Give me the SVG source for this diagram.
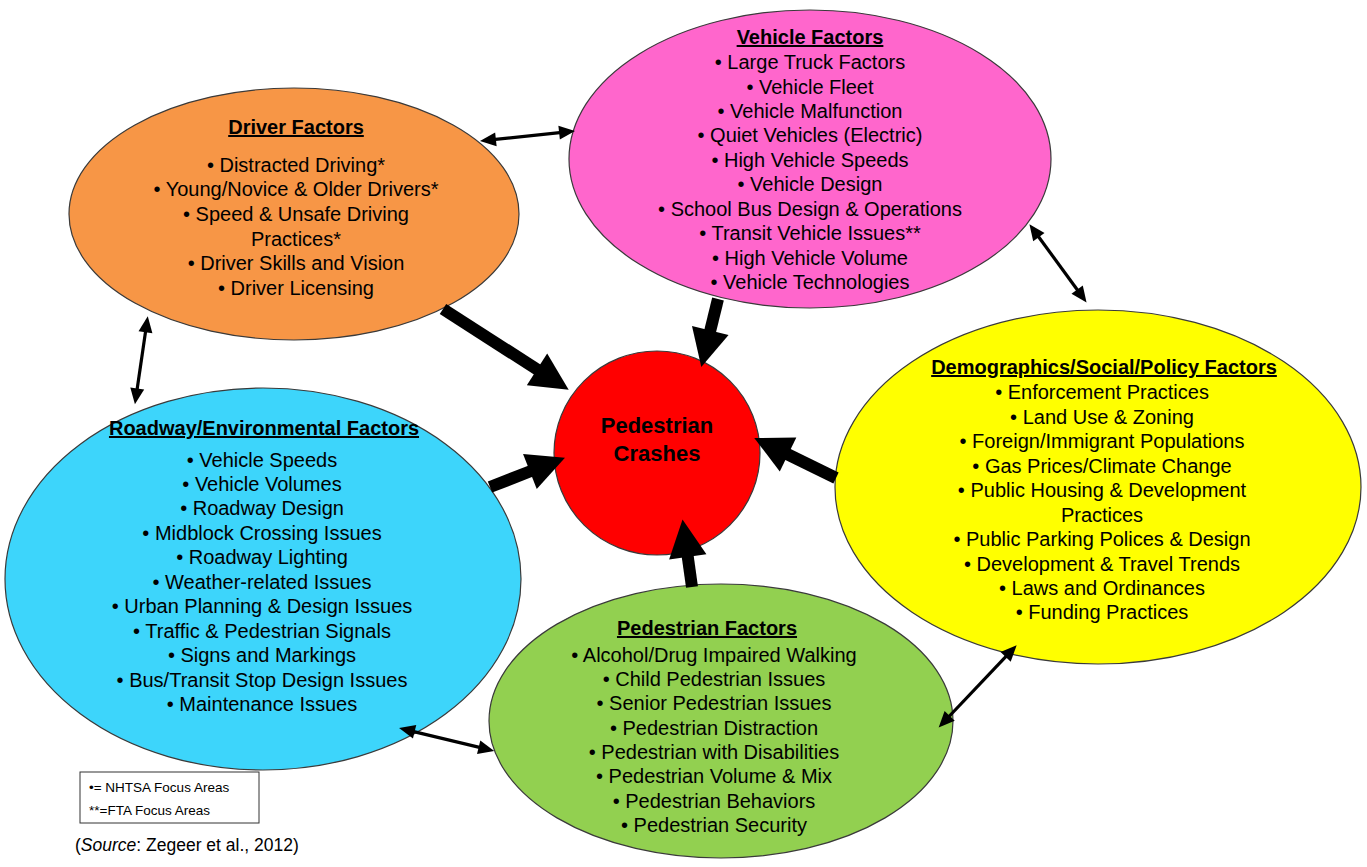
<svg xmlns="http://www.w3.org/2000/svg" width="1367" height="867" viewBox="0 0 1367 867">
<style>
.node{stroke:#3a3a3a;stroke-width:1.2}
.t{font-family:"Liberation Sans",Arial,sans-serif;font-size:20px;fill:#000;text-anchor:middle}
.h{font-weight:bold;text-decoration:underline}
.c{font-family:"Liberation Sans",Arial,sans-serif;font-size:22px;font-weight:bold;fill:#000;text-anchor:middle}
.thick{stroke:#000;stroke-width:12;fill:none;marker-end:url(#big)}
.thin{stroke:#000;stroke-width:3.2;fill:none;marker-start:url(#sm);marker-end:url(#sm)}
.leg{font-family:"Liberation Sans",Arial,sans-serif;font-size:13.5px;fill:#000}
.src{font-family:"Liberation Sans",Arial,sans-serif;font-size:17.5px;fill:#000}
</style>
<defs>
<marker id="big" markerUnits="userSpaceOnUse" markerWidth="40" markerHeight="40" viewBox="-1 -17 33 34" refX="0" refY="0" orient="auto">
<path d="M-1,-16 L31,0 L-1,16 z" fill="#000"/>
</marker>
<marker id="sm" markerUnits="userSpaceOnUse" markerWidth="18" markerHeight="16" viewBox="-4 -8 18 16" refX="0" refY="0" orient="auto-start-reverse">
<path d="M-3,-7 L13,0 L-3,7 z" fill="#000"/>
</marker>
</defs>
<rect width="1367" height="867" fill="#fff"/>

<g id="driver">
<ellipse class="node" cx="294" cy="214" rx="225" ry="126" fill="#F79646"/>
<text class="t h" x="296" y="134">Driver Factors</text>
<text class="t" x="296" y="172">• Distracted Driving*</text>
<text class="t" x="296" y="196">• Young/Novice &amp; Older Drivers*</text>
<text class="t" x="296" y="221">• Speed &amp; Unsafe Driving</text>
<text class="t" x="296" y="246">Practices*</text>
<text class="t" x="296" y="270">• Driver Skills and Vision</text>
<text class="t" x="296" y="295">• Driver Licensing</text>
</g>

<g id="vehicle">
<ellipse class="node" cx="810" cy="159" rx="241" ry="149" fill="#FF66CC"/>
<text class="t h" x="810" y="44">Vehicle Factors</text>
<text class="t" x="810" y="69">• Large Truck Factors</text>
<text class="t" x="810" y="94">• Vehicle Fleet</text>
<text class="t" x="810" y="118">• Vehicle Malfunction</text>
<text class="t" x="810" y="142">• Quiet Vehicles (Electric)</text>
<text class="t" x="810" y="167">• High Vehicle Speeds</text>
<text class="t" x="810" y="191">• Vehicle Design</text>
<text class="t" x="810" y="216">• School Bus Design &amp; Operations</text>
<text class="t" x="810" y="240">• Transit Vehicle Issues**</text>
<text class="t" x="810" y="265">• High Vehicle Volume</text>
<text class="t" x="810" y="289">• Vehicle Technologies</text>
</g>

<g id="demographics">
<ellipse class="node" cx="1098" cy="487" rx="263" ry="177" fill="#FFFF00"/>
<text class="t h" x="1104" y="374">Demographics/Social/Policy Factors</text>
<text class="t" x="1102" y="399">• Enforcement Practices</text>
<text class="t" x="1102" y="424">• Land Use &amp; Zoning</text>
<text class="t" x="1102" y="448">• Foreign/Immigrant Populations</text>
<text class="t" x="1102" y="473">• Gas Prices/Climate Change</text>
<text class="t" x="1102" y="497">• Public Housing &amp; Development</text>
<text class="t" x="1102" y="522">Practices</text>
<text class="t" x="1102" y="546">• Public Parking Polices &amp; Design</text>
<text class="t" x="1102" y="571">• Development &amp; Travel Trends</text>
<text class="t" x="1102" y="595">• Laws and Ordinances</text>
<text class="t" x="1102" y="619">• Funding Practices</text>
</g>

<g id="roadway">
<ellipse class="node" cx="263" cy="579" rx="258" ry="191" fill="#3DD5FB"/>
<text class="t h" x="264" y="435">Roadway/Environmental Factors</text>
<text class="t" x="262" y="467">• Vehicle Speeds</text>
<text class="t" x="262" y="491">• Vehicle Volumes</text>
<text class="t" x="262" y="515">• Roadway Design</text>
<text class="t" x="262" y="540">• Midblock Crossing Issues</text>
<text class="t" x="262" y="564">• Roadway Lighting</text>
<text class="t" x="262" y="589">• Weather-related Issues</text>
<text class="t" x="262" y="613">• Urban Planning &amp; Design Issues</text>
<text class="t" x="262" y="638">• Traffic &amp; Pedestrian Signals</text>
<text class="t" x="262" y="662">• Signs and Markings</text>
<text class="t" x="262" y="687">• Bus/Transit Stop Design Issues</text>
<text class="t" x="262" y="711">• Maintenance Issues</text>
</g>

<g id="pedestrian">
<ellipse class="node" cx="721" cy="721" rx="232" ry="137" fill="#92D050"/>
<text class="t h" x="707" y="635">Pedestrian Factors</text>
<text class="t" x="714" y="662">• Alcohol/Drug Impaired Walking</text>
<text class="t" x="714" y="686">• Child Pedestrian Issues</text>
<text class="t" x="714" y="710">• Senior Pedestrian Issues</text>
<text class="t" x="714" y="735">• Pedestrian Distraction</text>
<text class="t" x="714" y="759">• Pedestrian with Disabilities</text>
<text class="t" x="714" y="783">• Pedestrian Volume &amp; Mix</text>
<text class="t" x="714" y="808">• Pedestrian Behaviors</text>
<text class="t" x="714" y="832">• Pedestrian Security</text>
</g>

<g id="crashes">
<ellipse class="node" cx="657" cy="453" rx="103" ry="102" fill="#FF0000"/>
<text class="c" x="657" y="433">Pedestrian</text>
<text class="c" x="657" y="461">Crashes</text>
</g>

<g id="connectors">
<line class="thick" x1="443" y1="309" x2="538" y2="370"/>
<line class="thick" x1="718" y1="299" x2="710" y2="331.6"/>
<line class="thick" x1="490" y1="487" x2="531" y2="471"/>
<line class="thick" x1="836" y1="478" x2="787" y2="454"/>
<line class="thick" x1="692" y1="587" x2="687.6" y2="555.7"/>
<line class="thin" x1="492.9" y1="139.7" x2="562.1" y2="132.3"/>
<line class="thin" x1="145.9" y1="329.2" x2="136.8" y2="391.4"/>
<line class="thin" x1="1037.1" y1="234.7" x2="1078.9" y2="292"/>
<line class="thin" x1="411.7" y1="731.1" x2="481.6" y2="747.9"/>
<line class="thin" x1="1007.7" y1="654.7" x2="947.6" y2="718"/>
</g>

<g id="legend">
<rect x="80" y="772" width="179" height="51" fill="#fff" stroke="#333" stroke-width="1"/>
<text class="leg" x="89" y="792">•= NHTSA Focus Areas</text>
<text class="leg" x="89" y="815">**=FTA Focus Areas</text>
</g>
<text class="src" x="75" y="851">(<tspan font-style="italic">Source</tspan>: Zegeer et al., 2012)</text>
</svg>
